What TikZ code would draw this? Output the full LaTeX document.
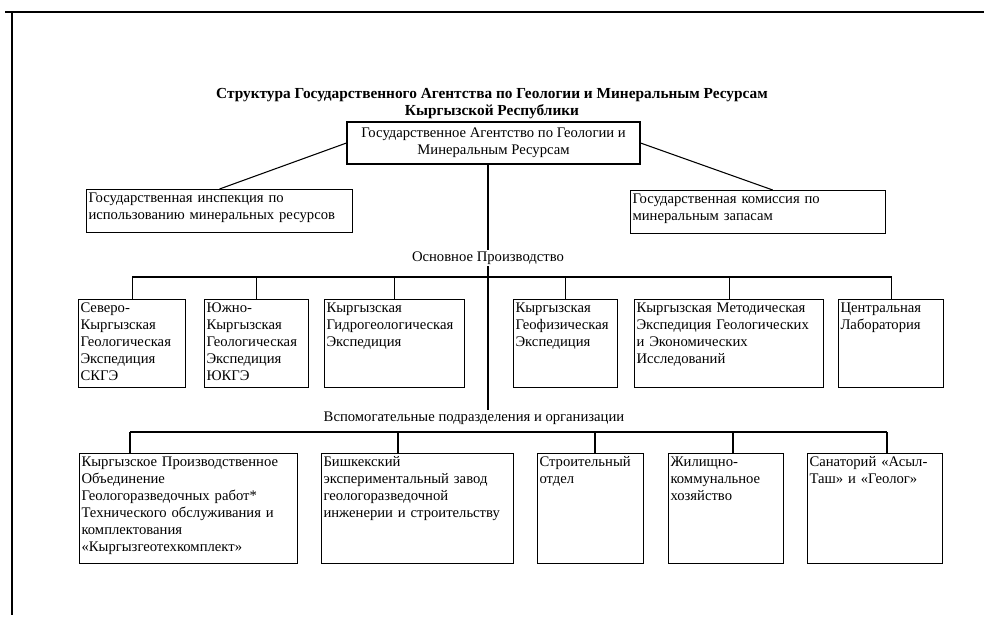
\documentclass[tikz,border=0pt]{standalone}
\usepackage{fontspec}
\setmainfont{Liberation Serif}
\newcommand\fsbox{\fontsize{11}{12.75}\selectfont}
\newcommand\fstitle{\fontsize{11.5}{12.75}\selectfont\bfseries}
\tikzset{
  wire/.style={line width=0.8pt},
  unit/.style={draw, line width=0.8pt, anchor=north west, align=left, inner sep=1.5pt, text height=8pt, font=\fsbox},
  lbl/.style={font=\fsbox, inner sep=1pt}
}
\begin{document}
\begin{tikzpicture}[x=0.75pt,y=0.75pt,yscale=-1,xscale=1]
        \useasboundingbox (0,0) rectangle (984,625);

        %Frame
        \draw [wire] (5,12) -- (984,12) ;
        \draw [wire] (12,12) -- (12,615) ;

        %Title
        \node [font=\fstitle, align=center] (title) at (492,104) {Структура Государственного Агентства по Геологии и Минеральным Ресурсам\\Кыргызской Республики};

        %Head
        \node [draw, line width=0.8pt, font=\fsbox, align=center, minimum width=219.75pt, minimum height=31.5pt, inner sep=1pt] (top) at (493.5,143) {Государственное Агентство по Геологии и\\Минеральным Ресурсам};
        \node [unit, text width=196.5pt, text depth=21.25pt] (insp) at (86,189) {Государственная инспекция по\\использованию минеральных ресурсов};
        \node [unit, text width=188.25pt, text depth=21.25pt] (comm) at (630,190) {Государственная комиссия по\\минеральным запасам};
        \draw [wire] (top.west) -- (insp.north) ;
        \draw [wire] (top.east) -- ([xshift=11pt]comm.north) ;

        %Main production
        \node [lbl] (main) at (488,258) {Основное Производство};
        \coordinate (bus1) at (488,277);
        \node [unit, text width=77.25pt, text depth=55pt] (skge) at (78,299) {Северо-\\Кыргызская\\Геологическая\\Экспедиция\\СКГЭ};
        \node [unit, text width=75pt, text depth=55pt] (ykge) at (204,299) {Южно-\\Кыргызская\\Геологическая\\Экспедиция\\ЮКГЭ};
        \node [unit, text width=102pt, text depth=55pt] (hydro) at (324,299) {Кыргызская\\Гидрогеологическая\\Экспедиция};
        \node [unit, text width=75pt, text depth=55pt] (geoph) at (513,299) {Кыргызская\\Геофизическая\\Экспедиция};
        \node [unit, text width=138.75pt, text depth=55pt] (method) at (634,299) {Кыргызская Методическая\\Экспедиция Геологических\\и Экономических\\Исследований};
        \node [unit, text width=75.75pt, text depth=55pt] (lab) at (838,299) {Центральная\\Лаборатория};
        \draw [wire] (skge.north) |- (bus1) -| (lab.north) ;
        \foreach \n in {ykge,hydro,geoph,method}
          \draw [wire] (\n.north) -- (\n.north |- bus1) ;

        %Auxiliary units
        \node [lbl] (aux) at (474,418) {Вспомогательные подразделения и организации};
        \draw [wire] (top.south -| main) -- (main.north) ;
        \draw [wire] (main.south) -- (main.south |- aux.north) ;
        \coordinate (d1) at (130,432);
        \coordinate (d2) at (398,432);
        \coordinate (d3) at (595,432);
        \coordinate (d4) at (733,432);
        \coordinate (d5) at (887,432);
        \node [unit, text width=160.5pt, text depth=71.5pt] (kpo) at (79,453) {Кыргызское Производственное\\Объединение\\Геологоразведочных работ*\\Технического обслуживания и\\комплектования\\«Кыргызгеотехкомплект»};
        \node [unit, text width=141pt, text depth=71.5pt] (plant) at (321,453) {Бишкекский\\экспериментальный завод\\геологоразведочной\\инженерии и строительству};
        \node [unit, text width=76.5pt, text depth=71.5pt] (build) at (537,453) {Строительный\\отдел};
        \node [unit, text width=83.25pt, text depth=71.5pt] (house) at (668,453) {Жилищно-\\коммунальное\\хозяйство};
        \node [unit, text width=98.25pt, text depth=71.5pt] (sanat) at (807,453) {Санаторий «Асыл-\\Таш» и «Геолог»};
        \draw [wire] (d1) -- (d5) ;
        \draw [wire] (d1) -- (d1 |- kpo.north) ;
        \draw [wire] (d2) -- (d2 |- plant.north) ;
        \draw [wire] (d3) -- (d3 |- build.north) ;
        \draw [wire] (d4) -- (d4 |- house.north) ;
        \draw [wire] (d5) -- (d5 |- sanat.north) ;

\end{tikzpicture}
\end{document}
